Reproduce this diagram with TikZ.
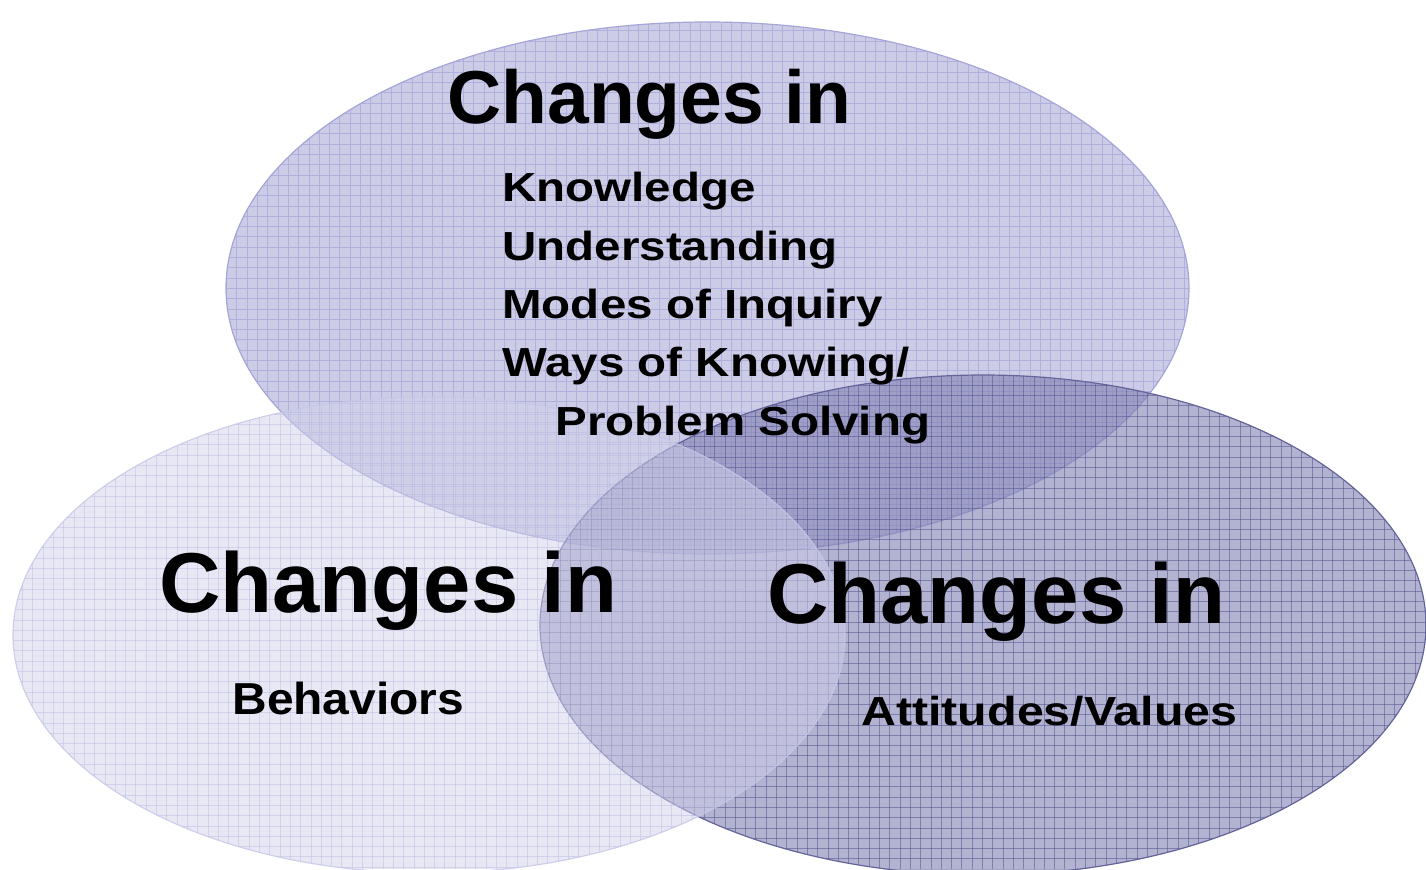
\documentclass[tikz,border=0pt]{standalone}
\usepackage{fontspec}
\setmainfont{Liberation Sans}
\usepackage{graphicx}
\definecolor{topfill}{RGB}{204,204,230}
\definecolor{topgrid}{RGB}{176,176,222}
\definecolor{topedge}{RGB}{165,165,218}
\definecolor{rightfill}{RGB}{131,131,180}
\definecolor{rightgrid}{RGB}{85,85,145}
\definecolor{rightedge}{RGB}{100,100,155}
\definecolor{leftfill}{RGB}{210,210,234}
\definecolor{leftgrid}{RGB}{188,188,228}
\definecolor{leftedge}{RGB}{198,198,232}
\tikzset{
  bigtitle/.style={anchor=base west, inner sep=0pt, font=\fontsize{42.5}{50}\selectfont\bfseries},
  toptitle/.style={anchor=base west, inner sep=0pt, font=\fontsize{37.5}{44}\selectfont\bfseries},
  itemtext/.style={anchor=base west, inner sep=0pt, font=\fontsize{20.3}{24}\selectfont\bfseries},
  gridline/.style={line width=0.5pt}
}
\newcommand{\stretchtext}[2]{\scalebox{#1}[1]{#2}}
\begin{document}
\begin{tikzpicture}[x=0.5pt,y=-0.5pt]
\useasboundingbox (0,0) rectangle (1426,869);
% top ellipse
\begin{scope}
  \clip (707.5,288) ellipse [x radius=481.5, y radius=266];
  \fill[topfill] (0,0) rectangle (1426,869);
  \foreach \i in {0,...,139} \draw[gridline, topgrid] (\i*10.3,0) -- (\i*10.3,869);
  \foreach \i in {0,...,85} \draw[gridline, topgrid] (0,\i*10.3) -- (1426,\i*10.3);
\end{scope}
\draw[topedge, line width=0.6pt] (707.5,288) ellipse [x radius=481.5, y radius=266];
% right ellipse
\begin{scope}
  \clip (983,625) ellipse [x radius=443, y radius=250];
  \fill[rightfill, opacity=0.62] (0,0) rectangle (1426,869);
  \foreach \i in {0,...,139} \draw[gridline, rightgrid, opacity=0.55] (\i*10.3+4,0) -- (\i*10.3+4,869);
  \foreach \i in {0,...,85} \draw[gridline, rightgrid, opacity=0.55] (0,\i*10.3+4) -- (1426,\i*10.3+4);
\end{scope}
\draw[rightedge, line width=0.6pt] (983,625) ellipse [x radius=443, y radius=250];
% left ellipse
\begin{scope}
  \clip (429,635) ellipse [x radius=416, y radius=238];
  \fill[leftfill, opacity=0.5] (0,0) rectangle (1426,869);
  \foreach \i in {0,...,139} \draw[gridline, leftgrid, opacity=0.5] (\i*10.3+2,0) -- (\i*10.3+2,869);
  \foreach \i in {0,...,85} \draw[gridline, leftgrid, opacity=0.5] (0,\i*10.3+2) -- (1426,\i*10.3+2);
\end{scope}
\draw[leftedge, line width=0.6pt, opacity=0.8] (429,635) ellipse [x radius=416, y radius=238];
% texts
\node[toptitle] (ttop) at (447,123) {Changes in};
\node[itemtext] (k1) at (502,201.7) {\stretchtext{1.17}{Knowledge}};
\node[itemtext] (k2) at (502,260) {\stretchtext{1.17}{Understanding}};
\node[itemtext] (k3) at (502,318.3) {\stretchtext{1.17}{Modes of Inquiry}};
\node[itemtext] (k4) at (502,376.6) {\stretchtext{1.17}{Ways of Knowing/}};
\node[itemtext] (k5) at (555,435) {\stretchtext{1.17}{Problem Solving}};
\node[bigtitle] (tleft) at (159,612) {Changes in};
\node[itemtext, font=\fontsize{22.4}{26}\selectfont\bfseries] (beh) at (232,714) {\stretchtext{1.07}{Behaviors}};
\node[bigtitle] (tright) at (767,623) {Changes in};
\node[itemtext] (att) at (861,725) {\stretchtext{1.19}{Attitudes/Values}};
\end{tikzpicture}
\end{document}
